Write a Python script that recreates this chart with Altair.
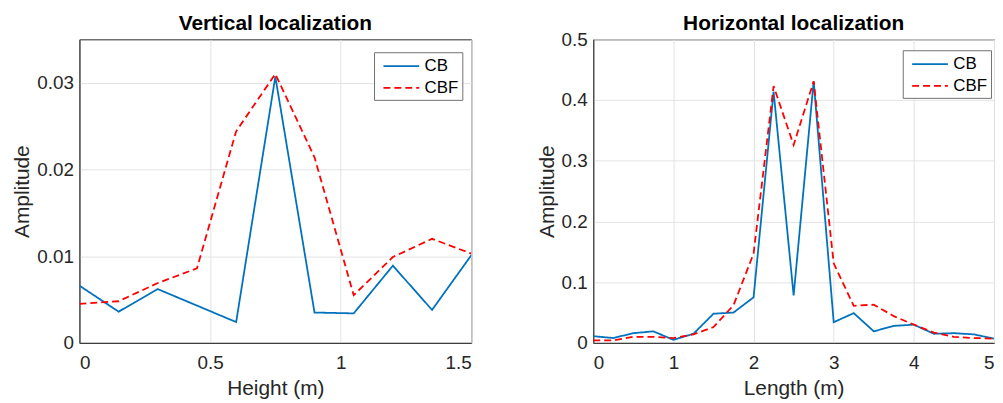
import altair as alt
import pandas as pd

# ---- data ----
series_names = ["CB", "CBF"]

height_m = [0, 0.15, 0.3, 0.45, 0.6, 0.75, 0.9, 1.05, 1.2, 1.35, 1.5]
vert_cb = [0.0066, 0.0036, 0.0062, 0.0043, 0.0024, 0.0307, 0.0035, 0.0034, 0.0089, 0.0038, 0.0101]
vert_cbf = [0.0045, 0.0048, 0.0069, 0.0086, 0.0244, 0.0310, 0.0214, 0.0055, 0.0099, 0.0120, 0.0103]

length_m = [0, 0.25, 0.5, 0.75, 1.0, 1.25, 1.5, 1.75, 2.0, 2.25, 2.5, 2.75,
            3.0, 3.25, 3.5, 3.75, 4.0, 4.25, 4.5, 4.75, 5.0]
horiz_cb = [0.011, 0.008, 0.016, 0.019, 0.005, 0.015, 0.048, 0.050, 0.075, 0.414, 0.078, 0.431,
            0.034, 0.049, 0.019, 0.028, 0.030, 0.015, 0.016, 0.014, 0.007]
horiz_cbf = [0.004, 0.004, 0.010, 0.010, 0.008, 0.014, 0.026, 0.062, 0.147, 0.423, 0.326, 0.431,
             0.131, 0.061, 0.063, 0.044, 0.030, 0.017, 0.010, 0.008, 0.007]

vert_x_ticks = [0, 0.5, 1, 1.5]
vert_y_ticks = [0, 0.01, 0.02, 0.03]
horiz_x_ticks = [0, 1, 2, 3, 4, 5]
horiz_y_ticks = [0, 0.1, 0.2, 0.3, 0.4, 0.5]

FONT = "Liberation Sans"
TXT = "#262626"


def long_table(x, a, b):
    rows = [{"x": xi, "y": yi, "s": series_names[0]} for xi, yi in zip(x, a)]
    rows += [{"x": xi, "y": yi, "s": series_names[1]} for xi, yi in zip(x, b)]
    return pd.DataFrame(rows)


def panel(df, title, xtitle, xdom, ydom, xticks, yticks, w, h, lx, ly, toff):
    leg = alt.Legend(
        title=None, orient="none", legendX=lx, legendY=ly,
        symbolType="M-2,0L2,0", symbolSize=324, symbolStrokeWidth=1.8,
        symbolOffset=13.5, labelOffset=13.5,
        labelFontSize=17, labelFont=FONT, labelColor="#000000",
        strokeColor="#707070", fillColor="white", padding=4, rowPadding=4,
        cornerRadius=0,
    )
    return alt.Chart(df).mark_line(strokeWidth=1.8, clip=True).encode(
        x=alt.X("x:Q", scale=alt.Scale(domain=xdom, nice=False, zero=False),
                axis=alt.Axis(values=xticks, format="~g", title=xtitle, ticks=False, tickSize=0,
                              labelPadding=11, titlePadding=5)),
        y=alt.Y("y:Q", scale=alt.Scale(domain=ydom, nice=False),
                axis=alt.Axis(values=yticks, format="~g", title="Amplitude", ticks=False, tickSize=0,
                              labelPadding=6, titlePadding=4)),
        color=alt.Color("s:N", scale=alt.Scale(domain=series_names, range=["#0072BD", "#FF0000"]), legend=leg),
        strokeDash=alt.StrokeDash("s:N", scale=alt.Scale(domain=series_names, range=[[1, 0], [7, 4]]), legend=leg),
    ).properties(
        width=w, height=h,
        title=alt.TitleParams(title, fontSize=21, fontWeight="bold", font=FONT, color="#000000",
                              frame="group", anchor="middle", offset=toff),
    )


left = panel(long_table(height_m, vert_cb, vert_cbf), "Vertical localization", "Height (m)",
             [0, 1.5], [0, 0.035], vert_x_ticks, vert_y_ticks, 395, 306, 297, 13, 5)
right = panel(long_table(length_m, horiz_cb, horiz_cbf), "Horizontal localization", "Length (m)",
              [0, 5], [0, 0.5], horiz_x_ticks, horiz_y_ticks, 404, 306, 312, 11, -4)

chart = alt.hconcat(left, right, spacing=123, bounds="flush").resolve_scale(
    color="independent", strokeDash="independent"
).resolve_legend(
    color="independent", strokeDash="independent"
).properties(
    padding={"left": 3, "top": 3, "right": 0, "bottom": 0},
).configure_view(
    stroke=TXT, strokeWidth=1,
).configure_axis(
    labelFont=FONT, titleFont=FONT, labelFontSize=19, titleFontSize=21,
    labelColor=TXT, titleColor=TXT, titleFontWeight="normal",
    grid=True, gridColor="#e3e3e3", gridWidth=1,
    domainColor=TXT,
)

chart.save("out.html", embed_options={"renderer": "svg", "actions": False})
